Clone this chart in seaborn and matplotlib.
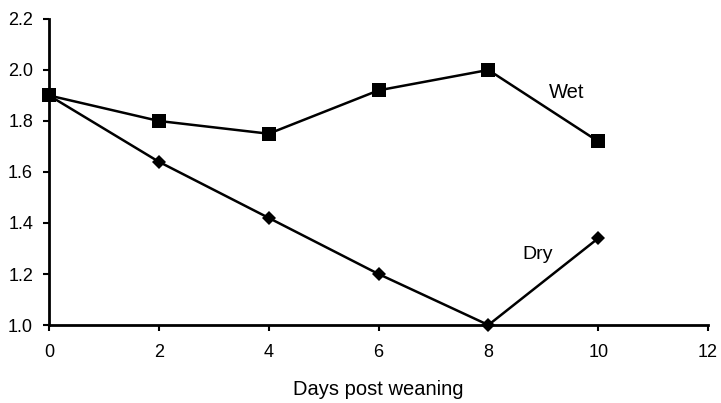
import matplotlib
matplotlib.use("Agg")
import matplotlib.pyplot as plt
import seaborn as sns
import pandas as pd
from matplotlib.ticker import FormatStrFormatter

days = [0, 2, 4, 6, 8, 10]
wet = [1.90, 1.80, 1.75, 1.92, 2.00, 1.72]
dry = [1.90, 1.64, 1.42, 1.20, 1.00, 1.34]
x_ticks = [0, 2, 4, 6, 8, 10, 12]
y_ticks = [1.0, 1.2, 1.4, 1.6, 1.8, 2.0, 2.2]

sns.set_theme(style="ticks")
plt.rcParams['font.family'] = ['Liberation Sans', 'DejaVu Sans']

df = pd.DataFrame({"Days": days * 2, "Value": wet + dry,
                   "Group": ["Wet"] * len(days) + ["Dry"] * len(days)})

fig = plt.figure(figsize=(7.21, 4.03), dpi=100)
ax = fig.add_axes([0.068, 0.1935, 0.914, 0.7595])

sns.lineplot(data=df, x="Days", y="Value", hue="Group", style="Group",
             markers={"Wet": "s", "Dry": "D"}, dashes=False,
             palette={"Wet": "black", "Dry": "black"}, linewidth=1.8,
             markersize=9, markeredgewidth=0, legend=False, ax=ax, clip_on=False)
for line in ax.lines:
    if line.get_marker() == "D":
        line.set_markersize(7.5)
    else:
        line.set_markersize(10)

ax.set_xlim(0, 12)
ax.set_ylim(1.0, 2.2)
ax.set_xticks(x_ticks)
ax.set_yticks(y_ticks)
ax.yaxis.set_major_formatter(FormatStrFormatter('%.1f'))
ax.tick_params(axis='both', labelsize=13, length=4.5, width=1.5, color='black',
               labelcolor='black', direction='out')
ax.tick_params(axis='x', pad=9)
ax.tick_params(axis='y', pad=7)
for s in ['top', 'right']:
    ax.spines[s].set_visible(False)
for s in ['left', 'bottom']:
    ax.spines[s].set_linewidth(2)
    ax.spines[s].set_color('black')

ax.set_xlabel("Days post weaning", fontsize=14.5, color='black', labelpad=14)
ax.set_ylabel("")
ax.text(9.43, 1.91, "Wet", fontsize=14.5, ha='center', va='center', color='black')
ax.text(8.9, 1.278, "Dry", fontsize=14, ha='center', va='center', color='black')

fig.savefig("out.png", dpi=100)
